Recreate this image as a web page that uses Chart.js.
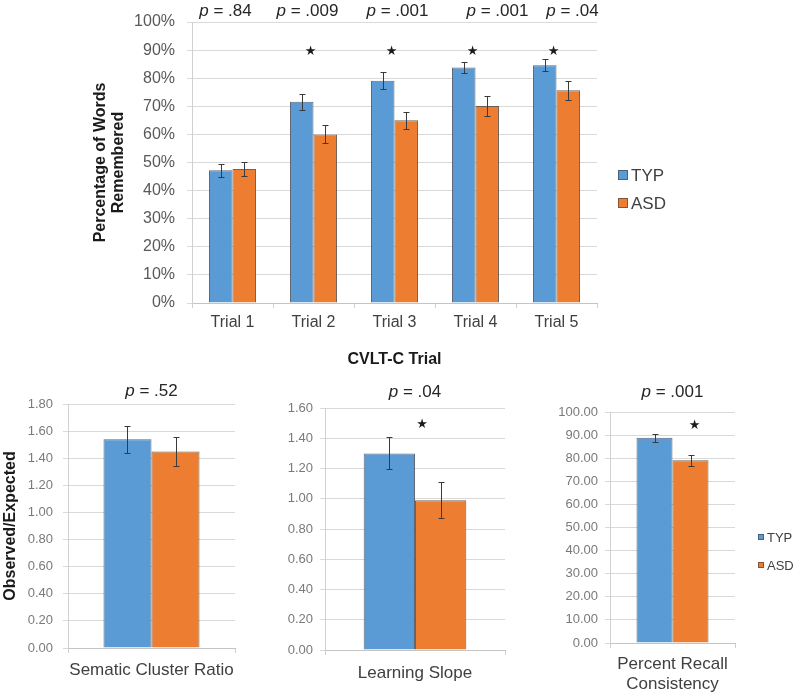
<!DOCTYPE html>
<html lang="en">
<head>
    <meta charset="UTF-8">
    <title>CVLT-C recall, TYP vs ASD</title>
    <script src="https://cdn.jsdelivr.net/npm/chart.js"></script>
    <style>
body {
  margin: 0;
  background: #fff;
  font-family: 'Liberation Sans', Arial, sans-serif;
}
#wrap {
  position: relative;
  width: 800px;
  height: 694px;
  overflow: hidden;
}
canvas {
  position: absolute;
}
#trialChart { left: 0; top: 0; }
#clusterChart { left: 0; top: 380px; }
#slopeChart { left: 270px; top: 380px; }
#recallChart { left: 530px; top: 380px; }
    </style>
</head>
<body>
<div id="wrap">
    <canvas id="trialChart" width="800" height="372"></canvas>
    <canvas id="clusterChart" width="270" height="314"></canvas>
    <canvas id="slopeChart" width="260" height="314"></canvas>
    <canvas id="recallChart" width="270" height="314"></canvas>
</div>

<script>
// ---- data ----
const trials = ['Trial 1', 'Trial 2', 'Trial 3', 'Trial 4', 'Trial 5'];
const typTrials = [47.2, 71.6, 79.1, 83.8, 84.6];
const asdTrials = [47.7, 60.0, 65.0, 70.1, 75.7];
const typTrialsErr = [2.2, 2.8, 3.0, 2.0, 2.1];
const asdTrialsErr = [2.6, 3.2, 3.0, 3.6, 3.3];
const trialP = ['.84', '.009', '.001', '.001', '.04'];
const trialSig = [false, true, true, true, true];

const clusterLabel = ['Sematic Cluster Ratio'];
const clusterTyp = [1.54];
const clusterAsd = [1.45];
const clusterTypErr = [0.10];
const clusterAsdErr = [0.105];
const clusterP = ['.52'];
const clusterSig = [false];

const slopeLabel = ['Learning Slope'];
const slopeTyp = [1.30];
const slopeAsd = [0.99];
const slopeTypErr = [0.105];
const slopeAsdErr = [0.12];
const slopeP = ['.04'];
const slopeSig = [true];

const recallLabel = [['Percent Recall', 'Consistency']];
const recallTyp = [88.9];
const recallAsd = [79.1];
const recallTypErr = [1.7];
const recallAsdErr = [2.5];
const recallP = ['.001'];
const recallSig = [true];

const groups = ['TYP', 'ASD'];

const BLUE = '#5B9BD5';
const ORANGE = '#ED7D31';
const FONT = "'Liberation Sans', Arial, sans-serif";
Chart.defaults.font.family = FONT;

// error bars, p values, stars and the little legend
function notesPlugin(spec) {
  return {
    id: 'notes',
    afterDatasetsDraw(chart) {
      const ctx = chart.ctx;
      const xs = chart.scales.x, ys = chart.scales.y;
      ctx.save();

      // error bars
      ctx.strokeStyle = '#3a3a3a';
      ctx.lineWidth = 1;
      spec.errors.forEach((errs, di) => {
        const vals = chart.data.datasets[di].data;
        chart.getDatasetMeta(di).data.forEach((bar, i) => {
          const cx = Math.round(bar.x) + 0.5;
          const top = Math.round(ys.getPixelForValue(vals[i] + errs[i])) + 0.5;
          const bot = Math.round(ys.getPixelForValue(vals[i] - errs[i])) + 0.5;
          ctx.beginPath();
          ctx.moveTo(cx, top); ctx.lineTo(cx, bot);
          ctx.moveTo(cx - spec.cap, top); ctx.lineTo(cx + spec.cap, top);
          ctx.moveTo(cx - spec.cap, bot); ctx.lineTo(cx + spec.cap, bot);
          ctx.stroke();
        });
      });

      // p = ... above each category
      ctx.fillStyle = '#262626';
      ctx.textBaseline = 'middle';
      ctx.textAlign = 'left';
      spec.pValues.forEach((p, i) => {
        const italic = 'italic ' + spec.pSize + 'px ' + FONT;
        const normal = spec.pSize + 'px ' + FONT;
        const rest = ' = ' + p;
        ctx.font = italic;
        const w1 = ctx.measureText('p').width;
        ctx.font = normal;
        const w2 = ctx.measureText(rest).width;
        const cx = xs.getPixelForValue(i) + (spec.pShift ? spec.pShift[i] : 0);
        const x0 = cx - (w1 + w2) / 2;
        ctx.font = italic;
        ctx.fillText('p', x0, spec.pY);
        ctx.font = normal;
        ctx.fillText(rest, x0 + w1, spec.pY);
      });

      // significance stars
      ctx.font = '13px "DejaVu Sans"';
      ctx.textAlign = 'center';
      ctx.fillStyle = '#1a1a1a';
      spec.sig.forEach((s, i) => {
        if (!s) return;
        let sx = xs.getPixelForValue(i);
        if (spec.starBar !== undefined) sx = chart.getDatasetMeta(spec.starBar).data[i].x;
        ctx.fillText('\u2605', sx + spec.starShift, ys.getPixelForValue(spec.starValue));
      });

      // legend
      if (spec.legend) {
        const lg = spec.legend;
        ctx.font = lg.size + 'px ' + FONT;
        ctx.textAlign = 'left';
        chart.data.datasets.forEach((ds, di) => {
          const ly = lg.y + di * lg.gap;
          ctx.fillStyle = ds.backgroundColor;
          ctx.fillRect(lg.x, ly - lg.box / 2, lg.box, lg.box);
          ctx.strokeStyle = 'rgba(60,60,60,0.6)';
          ctx.strokeRect(lg.x + 0.5, ly - lg.box / 2 + 0.5, lg.box - 1, lg.box - 1);
          ctx.fillStyle = '#404040';
          ctx.fillText(ds.label, lg.x + lg.box + 3, ly + 1);
        });
      }
      ctx.restore();
    }
  };
}

function barPanel(id, spec) {
  const tickColor = spec.tickColor || '#595959';
  return new Chart(document.getElementById(id), {
    type: 'bar',
    data: {
      labels: spec.labels,
      datasets: [
        { label: groups[0], data: spec.typ, backgroundColor: BLUE, borderColor: 'rgba(55,65,80,0.8)', borderWidth: 1 },
        { label: groups[1], data: spec.asd, backgroundColor: ORANGE, borderColor: 'rgba(80,60,45,0.8)', borderWidth: 1 }
      ]
    },
    options: {
      responsive: false,
      animation: false,
      layout: { padding: spec.padding },
      datasets: { bar: { categoryPercentage: spec.catPct, barPercentage: 1.0 } },
      plugins: { legend: { display: false }, tooltip: { enabled: false } },
      scales: {
        x: {
          grid: { display: true, drawOnChartArea: false, drawTicks: true, tickLength: 5, color: '#cfcfcf' },
          border: { color: '#c4c4c4' },
          ticks: { color: '#404040', font: { size: spec.xFont, lineHeight: 1.18 }, padding: spec.xPad, maxRotation: 0 },
          title: spec.xTitle ? {
            display: true, text: spec.xTitle, color: '#1a1a1a',
            font: { size: 16, weight: 'bold', lineHeight: 1.2 }, padding: { top: 0, bottom: 3 }
          } : { display: false },
          afterFit(s) { s.height = spec.xHeight; }
        },
        y: {
          min: 0,
          max: spec.yMax,
          ticks: { stepSize: spec.yStep, color: tickColor, font: { size: spec.yFont }, padding: spec.yPad, callback: spec.tickFmt },
          grid: { color: '#d9d9d9', tickLength: 5 },
          border: { color: '#d0d0d0' },
          title: spec.yTitle ? {
            display: true, text: spec.yTitle, color: '#1a1a1a',
            font: { size: 16, weight: 'bold', lineHeight: 1.125 }, padding: { top: spec.yTitlePad, bottom: 0 }
          } : { display: false },
          afterFit(s) { s.width = spec.yWidth; }
        }
      }
    },
    plugins: [notesPlugin(spec.notes)]
  });
}

// top panel: five trials
barPanel('trialChart', {
  labels: trials, typ: typTrials, asd: asdTrials,
  padding: { top: 22, right: 203, left: 0, bottom: 0 },
  catPct: 0.58,
  yMax: 100, yStep: 10, yFont: 16, yPad: 12, yWidth: 192,
  tickFmt: v => v + '%',
  yTitle: ['Percentage of Words', 'Remembered'], yTitlePad: 92,
  xFont: 16, xPad: 5, xHeight: 69, xTitle: 'CVLT-C Trial',
  notes: {
    errors: [typTrialsErr, asdTrialsErr], cap: 3,
    pValues: trialP, pSize: 17, pY: 11, pShift: [-7, -6, 3, 22, 16],
    sig: trialSig, starValue: 89.5, starShift: -3,
    legend: { x: 618, y: 175, gap: 28, box: 10, size: 17 }
  }
});

// bottom panels
barPanel('clusterChart', {
  labels: clusterLabel, typ: clusterTyp, asd: clusterAsd,
  padding: { top: 24, right: 35, left: 0, bottom: 0 },
  catPct: 0.575,
  yMax: 1.8, yStep: 0.2, yFont: 13, yPad: 10, yWidth: 68, tickColor: '#7a7a7a',
  tickFmt: v => v.toFixed(2),
  yTitle: 'Observed/Expected', yTitlePad: 2,
  xFont: 17, xPad: 7, xHeight: 46,
  notes: {
    errors: [clusterTypErr, clusterAsdErr], cap: 3,
    pValues: clusterP, pSize: 17, pY: 11,
    sig: clusterSig, starValue: 1.7, starShift: 0
  }
});

barPanel('slopeChart', {
  labels: slopeLabel, typ: slopeTyp, asd: slopeAsd,
  padding: { top: 28, right: 25, left: 0, bottom: 0 },
  catPct: 0.57,
  yMax: 1.6, yStep: 0.2, yFont: 13, yPad: 7, yWidth: 55, tickColor: '#7a7a7a',
  tickFmt: v => v.toFixed(2),
  xFont: 17, xPad: 8, xHeight: 44,
  notes: {
    errors: [slopeTypErr, slopeAsdErr], cap: 3,
    pValues: slopeP, pSize: 17, pY: 12,
    sig: slopeSig, starValue: 1.49, starShift: 7
  }
});

barPanel('recallChart', {
  labels: recallLabel, typ: recallTyp, asd: recallAsd,
  padding: { top: 32, right: 65, left: 0, bottom: 0 },
  catPct: 0.576,
  yMax: 100, yStep: 10, yFont: 13, yPad: 7, yWidth: 80, tickColor: '#7a7a7a',
  tickFmt: v => v.toFixed(2),
  xFont: 17, xPad: 6, xHeight: 51,
  notes: {
    errors: [recallTypErr, recallAsdErr], cap: 3,
    pValues: recallP, pSize: 17, pY: 12,
    sig: recallSig, starBar: 1, starShift: 4, starValue: 94,
    legend: { x: 228, y: 157, gap: 28, box: 6, size: 13 }
  }
});
</script>
</body>
</html>
